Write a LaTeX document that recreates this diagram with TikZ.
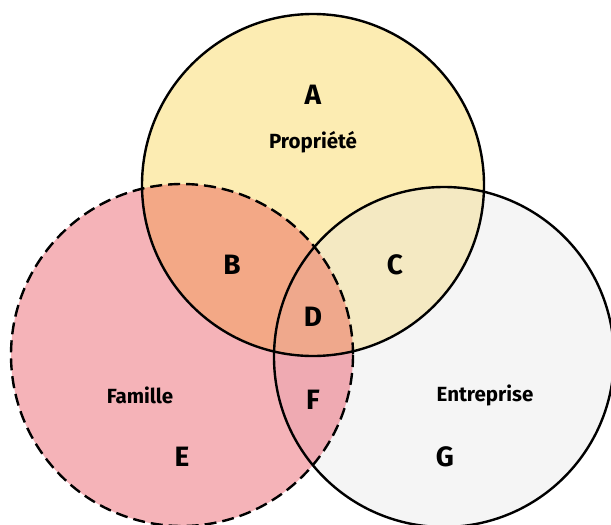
\documentclass[tikz,border=0pt]{standalone}
\usepackage{fontspec}
\setmainfont{Fira Sans}
\usepackage{tikz}
\usetikzlibrary{positioning}

\definecolor{propfill}{RGB}{252,236,178}
\definecolor{famfill}{RGB}{245,179,184}
\definecolor{entfill}{RGB}{245,245,245}
\definecolor{bfill}{RGB}{243,168,134}
\definecolor{cfill}{RGB}{244,233,194}
\definecolor{dfill}{RGB}{239,168,140}
\definecolor{ffill}{RGB}{239,170,178}

\begin{document}
\begin{tikzpicture}[
  x=1pt, y=-1pt,
  letter/.style={font=\bfseries\fontsize{28}{30}\selectfont},
  setname/.style={font=\bfseries\fontsize{20.5}{22}\selectfont},
  ring/.style={draw, line width=2.4pt},
  dashring/.style={ring, dash pattern=on 12pt off 6pt}
]
\useasboundingbox (0,0) rectangle (611,525);
\clip (0,0) rectangle (611,525);

% Centres
\coordinate (prop) at (313,185);
\coordinate (fam) at (182,355);
\coordinate (ent) at (444,357);

% Fills
\fill[propfill] (prop) circle (171);
\fill[famfill] (fam) circle (171);
\fill[entfill] (ent) circle (170);
\begin{scope}
  \clip (fam) circle (171);
  \fill[ffill] (ent) circle (170);
\end{scope}
\begin{scope}
  \clip (prop) circle (171);
  \fill[bfill] (fam) circle (171);
  \fill[cfill] (ent) circle (170);
  \clip (fam) circle (171);
  \fill[dfill] (ent) circle (170);
\end{scope}

% Outlines
\draw[dashring] (fam) circle (171);
\draw[ring] (ent) circle (170);
\draw[ring] (prop) circle (171);

% Labels
\node[letter] (la) at (313,95) {A};
\node[setname] (lprop) at (313,142) {Propriété};
\node[letter] (lb) at (232,265) {B};
\node[letter] (lc) at (395,265) {C};
\node[letter] (ld) at (313,317) {D};
\node[letter] (lf) at (313,400) {F};
\node[setname] (lfam) at (140,395) {Famille};
\node[letter] (le) at (182,457) {E};
\node[setname] (lent) at (485,395) {Entreprise};
\node[letter] (lg) at (445,457) {G};

\end{tikzpicture}
\end{document}
